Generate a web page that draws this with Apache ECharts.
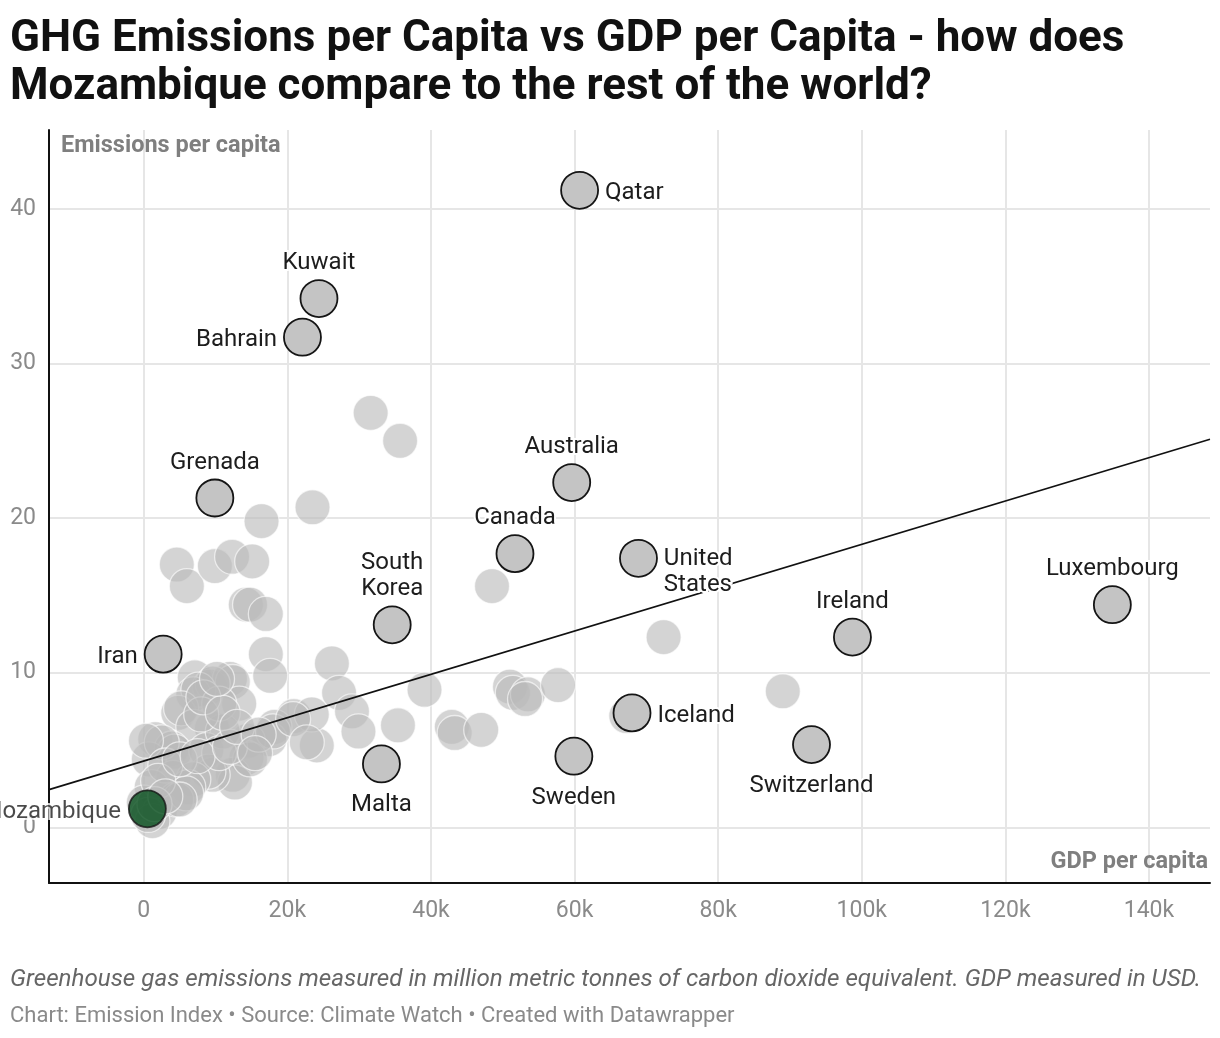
<!DOCTYPE html>
<html>
<head>
<meta charset="utf-8">
<title>GHG Emissions per Capita vs GDP per Capita</title>
<script src="https://cdn.jsdelivr.net/npm/echarts@6/dist/echarts.min.js"></script>
<style>
    html, body { margin: 0; padding: 0; background: #fff; }
    #chart { width: 1220px; height: 1038px; }
</style>
</head>
<body>
<div id="chart"></div>
<script type="text/javascript">
// GDP per capita in thousand USD, emissions per capita (t CO2e)
var grayPoints = [
    [31.6, 26.8], [35.7, 25.0], [23.5, 20.7], [16.4, 19.8],
    [4.6, 17.0], [6.0, 15.6], [9.9, 16.9], [12.3, 17.5], [15.1, 17.2],
    [14.2, 14.4], [14.8, 14.4], [17.0, 13.8], [17.0, 11.2], [17.6, 9.8], [26.2, 10.6],
    [48.5, 15.6], [72.4, 12.3], [89.0, 8.8],
    [27.2, 8.7], [29.0, 7.5], [29.9, 6.2], [24.1, 5.3], [20.9, 7.2], [23.4, 7.3], [18.2, 6.5], [17.5, 5.7],
    [35.4, 6.6], [39.1, 8.9], [42.9, 6.5], [43.3, 6.1], [47.0, 6.3], [51.0, 9.1], [51.4, 8.7],
    [53.5, 8.6], [53.1, 8.3], [57.7, 9.2], [67.2, 7.2],
    [7.1, 9.7], [9.2, 9.1], [12.0, 9.6], [12.4, 9.4], [9.6, 9.3], [6.9, 8.6], [7.6, 8.9], [13.3, 8.0],
    [4.8, 7.4], [5.2, 7.7], [9.5, 6.4], [6.9, 6.5], [1.6, 5.7], [3.9, 5.1], [4.3, 4.9], [0.7, 4.4],
    [8.7, 5.0], [14.5, 5.6], [14.3, 4.5], [12.4, 3.4], [12.7, 2.9], [9.6, 3.4], [9.0, 3.6], [4.1, 3.2],
    [6.9, 3.1], [6.2, 2.6], [1.1, 2.6], [14.8, 4.4], [18.0, 6.2], [20.8, 7.0], [22.7, 5.5],
    [0.0, 1.6], [2.2, 1.0], [1.2, 0.4], [4.5, 1.8], [5.9, 2.2], [5.0, 1.8],
    [2.5, 5.5], [0.3, 5.6], [11.0, 6.2], [10.5, 8.0], [8.0, 7.3], [3.0, 4.0], [2.0, 3.0], [5.0, 4.4],
    [0.6, 0.8], [1.5, 1.5], [3.0, 2.0], [10.5, 4.8], [7.5, 4.6], [12.0, 5.2], [8.3, 8.4], [11.0, 7.4],
    [10.2, 9.6], [13.0, 6.5], [16.0, 6.0], [15.5, 4.8]
];

var hlNames = ['Qatar', 'Kuwait', 'Bahrain', 'Grenada', 'Australia', 'Canada', 'United States',
    'South Korea', 'Iran', 'Malta', 'Sweden', 'Iceland', 'Switzerland', 'Ireland', 'Luxembourg'];
var hlGdp = [60.7, 24.4, 22.1, 9.9, 59.6, 51.7, 68.9, 34.6, 2.7, 33.1, 59.9, 68.0, 93.0, 98.7, 134.9];
var hlEmis = [41.2, 34.2, 31.7, 21.3, 22.3, 17.7, 17.4, 13.1, 11.2, 4.1, 4.6, 7.4, 5.35, 12.3, 14.4];

var focusName = 'Mozambique';
var focusGdp = [0.5];
var focusEmis = [1.2];

// fitted trend line end points
var trendGdp = [-13.2, 148.5];
var trendEmis = [2.44, 25.1];

var font = 'Roboto, "Noto Sans", sans-serif';

// where each label sits relative to its dot
var labelPos = {
    'Qatar': 'right', 'Kuwait': 'top', 'Bahrain': 'left', 'Grenada': 'top', 'Australia': 'top',
    'Canada': 'top', 'United States': 'right', 'South Korea': 'top', 'Iran': 'left',
    'Malta': 'bottom', 'Sweden': 'bottom', 'Iceland': 'right', 'Switzerland': 'bottom',
    'Ireland': 'top', 'Luxembourg': 'top'
};
var labelText = { 'United States': 'United\nStates', 'South Korea': 'South\nKorea' };

var hlData = hlNames.map(function (n, i) {
    var item = {
        name: n,
        value: [hlGdp[i], hlEmis[i]],
        label: { position: labelPos[n] }
    };
    if (n === 'United States') {
        item.label.align = 'left';
        item.label.offset = [0, 14];
    }
    return item;
});

var labelStyle = {
    show: true,
    distance: 6,
    offset: [0, 3],
    fontFamily: font,
    fontSize: 24,
    lineHeight: 26,
    color: '#1d1d1d',
    textBorderColor: '#fff',
    textBorderWidth: 4,
    formatter: function (p) { return labelText[p.name] || p.name; }
};

var myChart = echarts.init(document.getElementById('chart'));
var option = {
    backgroundColor: '#fff',
    animation: false,
    title: [
        {
            text: 'GHG Emissions per Capita vs GDP per Capita - how does\nMozambique compare to the rest of the world?',
            left: 10, top: 16, padding: 0,
            textStyle: { fontFamily: font, fontWeight: 'bold', fontSize: 44, lineHeight: 48, color: '#111' }
        },
        {
            text: 'Emissions per capita', left: 61, top: 134, padding: 0,
            textStyle: { fontFamily: font, fontWeight: 'bold', fontSize: 23.5, color: '#7f7f7f' }
        },
        {
            text: 'GDP per capita', right: 12, top: 850, padding: 0,
            textStyle: { fontFamily: font, fontWeight: 'bold', fontSize: 23.5, color: '#7f7f7f' }
        },
        {
            text: 'Greenhouse gas emissions measured in million metric tonnes of carbon dioxide equivalent. GDP measured in USD.',
            left: 10, top: 968, padding: 0,
            textStyle: { fontFamily: font, fontStyle: 'italic', fontWeight: 'normal', fontSize: 24.2, color: '#666' }
        },
        {
            text: 'Chart: Emission Index \u2022 Source: Climate Watch \u2022 Created with Datawrapper',
            left: 10, top: 1005, padding: 0,
            textStyle: { fontFamily: font, fontWeight: 'normal', fontSize: 22, color: '#8a8a8a' }
        }
    ],
    grid: { left: 49, right: 10, top: 130, bottom: 155, containLabel: false },
    xAxis: {
        type: 'value',
        min: trendGdp[0],
        max: trendGdp[1],
        splitNumber: 8,
        minInterval: 20,
        maxInterval: 20,
        axisLine: { show: true, onZero: false, lineStyle: { color: '#111', width: 2 } },
        axisTick: { show: false },
        axisLabel: {
            showMinLabel: false, showMaxLabel: false,
            margin: 17, fontFamily: font, fontSize: 23, color: '#8a8a8a',
            formatter: function (v) { return v === 0 ? '0' : v + 'k'; }
        },
        splitLine: { show: true, showMinLine: false, showMaxLine: false, lineStyle: { color: '#e6e6e6', width: 2 } }
    },
    yAxis: {
        type: 'value',
        min: -3.6,
        max: 45.1,
        splitNumber: 5,
        minInterval: 10,
        maxInterval: 10,
        axisLine: { show: true, onZero: false, lineStyle: { color: '#111', width: 2 } },
        axisTick: { show: false },
        axisLabel: {
            showMinLabel: false, showMaxLabel: false,
            margin: 13, padding: [5, 0, 0, 0], fontFamily: font, fontSize: 23, color: '#8a8a8a'
        },
        splitLine: { show: true, showMinLine: false, showMaxLine: false, lineStyle: { color: '#e6e6e6', width: 2 } }
    },
    series: [
        {
            name: 'Other countries',
            type: 'scatter',
            silent: true,
            z: 2,
            symbolSize: 35,
            data: grayPoints,
            itemStyle: { color: '#bababa', opacity: 0.62, borderColor: '#fff', borderWidth: 1.3 }
        },
        {
            name: 'Trend',
            type: 'line',
            silent: true,
            z: 3,
            symbol: 'none',
            data: [[trendGdp[0], trendEmis[0]], [trendGdp[1], trendEmis[1]]],
            lineStyle: { color: '#111', width: 1.6 }
        },
        {
            name: 'Highlighted',
            type: 'scatter',
            silent: true,
            z: 4,
            symbolSize: 37,
            data: hlData,
            itemStyle: { color: '#c4c4c4', opacity: 1, borderColor: '#151515', borderWidth: 1.8 },
            label: labelStyle
        },
        {
            name: focusName,
            type: 'scatter',
            silent: true,
            z: 5,
            symbolSize: 37,
            data: [{ name: focusName, value: [focusGdp[0], focusEmis[0]] }],
            itemStyle: { color: '#054d1b', borderColor: '#151515', borderWidth: 1.8 },
            label: Object.assign({}, labelStyle, { position: 'left', distance: 7 })
        }
    ]
};
myChart.setOption(option);
</script>
</body>
</html>
